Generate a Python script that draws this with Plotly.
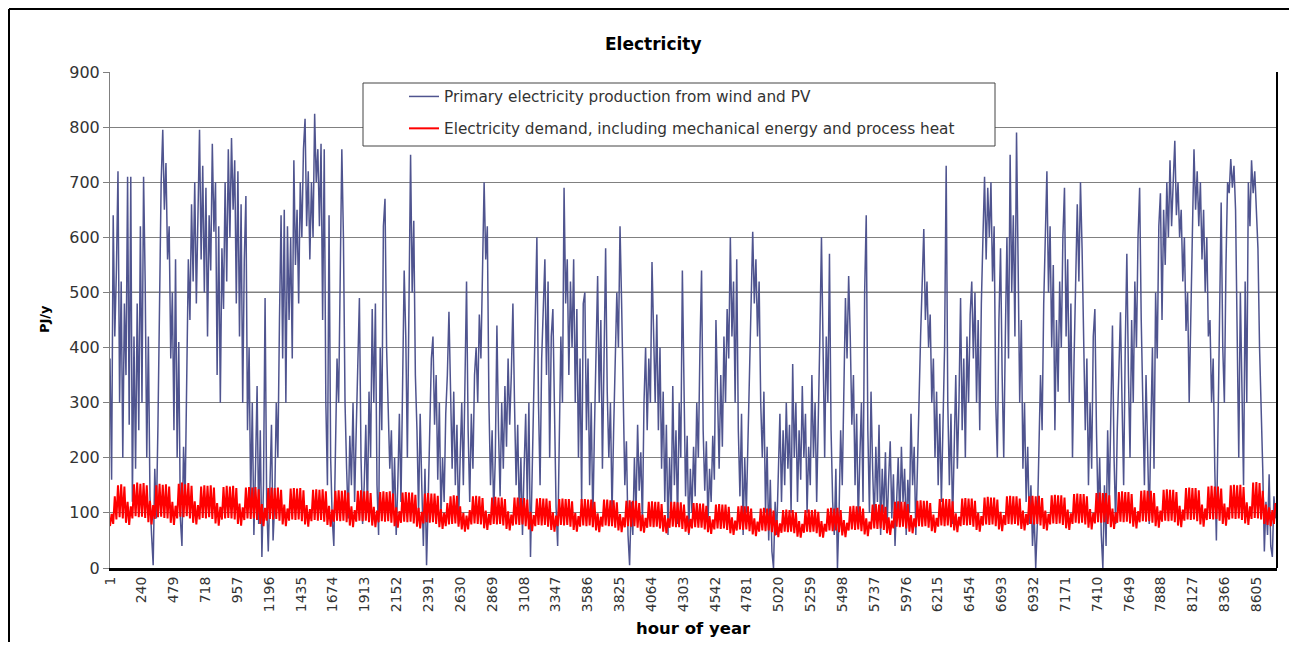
import plotly.graph_objects as go

# ---------------- data ----------------
hour_step = 12  # one value every 12 hours, starting at hour 1

tick_hours = [1, 240, 479, 718, 957, 1196, 1435, 1674, 1913, 2152, 2391, 2630,
              2869, 3108, 3347, 3586, 3825, 4064, 4303, 4542, 4781, 5020, 5259,
              5498, 5737, 5976, 6215, 6454, 6693, 6932, 7171, 7410, 7649, 7888,
              8127, 8366, 8605]
tick_labels = [str(h) for h in tick_hours]

production = [
    380, 160, 640, 420, 540, 720, 300, 520, 200, 480, 350, 710, 260, 710, 120, 420, 180, 480, 250, 620,
    300, 710, 520, 200, 420, 130, 60, 5, 180, 90, 260, 450, 700, 795, 650, 735, 560, 620, 380, 500,
    250, 560, 200, 410, 90, 40, 220, 130, 400, 560, 450, 660, 520, 700, 480, 650, 795, 560, 730, 500,
    690, 420, 640, 540, 770, 610, 700, 350, 620, 300, 580, 470, 700, 520, 760, 600, 780, 650, 740, 480,
    720, 420, 660, 300, 560, 675, 250, 400, 120, 300, 60, 180, 330, 80, 250, 20, 150, 490, 120, 30,
    180, 260, 50, 120, 300, 200, 450, 640, 380, 650, 300, 620, 450, 600, 380, 740, 550, 650, 480, 700,
    600, 760, 815, 620, 720, 560, 700, 600, 824, 700, 760, 620, 770, 450, 760, 300, 150, 640, 200, 90,
    40, 220, 380, 300, 560, 760, 600, 300, 180, 90, 240, 150, 300, 120, 250, 380, 490, 200, 80, 150,
    260, 100, 320, 200, 470, 300, 480, 150, 60, 400, 250, 620, 670, 400, 300, 180, 250, 100, 200, 60,
    150, 280, 120, 360, 540, 420, 200, 480, 750, 500, 630, 350, 250, 100, 280, 150, 40, 180, 5, 120,
    250, 380, 420, 260, 350, 160, 300, 90, 200, 120, 280, 350, 465, 300, 180, 320, 150, 260, 80, 200,
    300, 150, 380, 520, 250, 120, 280, 180, 350, 400, 300, 460, 380, 520, 700, 560, 620, 300, 150, 250,
    100, 200, 440, 250, 130, 300, 180, 330, 220, 380, 260, 350, 480, 300, 150, 260, 90, 200, 60, 180,
    280, 120, 300, 20, 180, 350, 450, 600, 300, 150, 380, 470, 560, 350, 520, 200, 420, 470, 250, 110,
    40, 200, 420, 300, 690, 480, 560, 350, 520, 400, 560, 300, 470, 200, 380, 120, 480, 500, 250, 380,
    150, 300, 80, 250, 400, 530, 300, 450, 180, 380, 580, 320, 200, 300, 100, 250, 380, 500, 400, 620,
    480, 300, 150, 230, 60, 5, 120, 60, 200, 100, 260, 140, 210, 80, 300, 400, 250, 380, 300, 555,
    450, 300, 460, 250, 400, 180, 320, 120, 260, 60, 200, 100, 330, 150, 250, 80, 300, 200, 540, 300,
    130, 240, 60, 180, 100, 220, 130, 300, 200, 400, 540, 250, 140, 230, 80, 180, 120, 240, 160, 450,
    300, 180, 350, 220, 420, 300, 470, 380, 600, 420, 520, 300, 560, 250, 130, 280, 60, 200, 100, 240,
    380, 500, 610, 480, 560, 420, 520, 300, 200, 320, 100, 220, 50, 160, 30, 0, 120, 60, 200, 280,
    120, 250, 150, 300, 180, 260, 100, 370, 200, 300, 120, 250, 160, 330, 200, 280, 100, 220, 150, 350,
    200, 300, 120, 250, 420, 600, 350, 200, 420, 300, 570, 250, 120, 60, 180, 0, 100, 250, 150, 300,
    490, 380, 530, 420, 260, 350, 150, 280, 80, 200, 300, 120, 500, 640, 250, 100, 320, 180, 80, 220,
    120, 260, 60, 180, 100, 210, 70, 160, 230, 90, 170, 40, 140, 200, 80, 220, 120, 180, 60, 160,
    100, 280, 150, 220, 60, 160, 300, 420, 500, 615, 450, 520, 400, 460, 300, 380, 200, 320, 150, 280,
    120, 250, 400, 730, 300, 150, 280, 80, 220, 350, 180, 300, 490, 250, 380, 200, 420, 300, 460, 520,
    380, 500, 300, 450, 250, 480, 600, 710, 560, 690, 600, 700, 520, 620, 300, 200, 450, 580, 350, 200,
    420, 600, 380, 750, 500, 640, 420, 790, 550, 300, 450, 180, 300, 120, 220, 80, 150, 40, 100, 0,
    80, 200, 350, 250, 480, 600, 720, 500, 620, 400, 550, 250, 450, 320, 520, 400, 600, 690, 420, 560,
    300, 480, 200, 380, 550, 660, 520, 700, 580, 420, 250, 380, 150, 300, 180, 420, 470, 250, 100, 200,
    60, 0, 150, 40, 250, 120, 300, 440, 200, 80, 250, 350, 464, 300, 150, 400, 570, 350, 200, 450,
    300, 520, 400, 600, 690, 450, 300, 150, 350, 200, 80, 250, 400, 180, 500, 380, 620, 680, 450, 650,
    550, 700, 600, 740, 620, 700, 775, 640, 700, 600, 650, 520, 600, 430, 500, 300, 450, 620, 760, 650,
    720, 620, 700, 560, 650, 500, 600, 420, 450, 300, 380, 180, 50, 250, 450, 663, 400, 300, 550, 700,
    680, 742, 690, 730, 650, 450, 200, 500, 300, 150, 520, 300, 700, 620, 740, 680, 720, 650, 580, 400,
    300, 180, 30, 120, 60, 170, 40, 20, 130, 90,
]

demand = [
    76, 98, 80, 130, 88, 150, 92, 152, 90, 148, 82, 120, 78, 112,
    90, 152, 94, 155, 92, 153, 93, 154, 91, 150, 83, 122, 79, 114,
    89, 150, 92, 153, 93, 151, 91, 152, 90, 148, 82, 120, 78, 113,
    90, 153, 93, 155, 92, 152, 94, 154, 90, 149, 82, 121, 79, 114,
    88, 148, 91, 150, 90, 149, 92, 150, 89, 146, 81, 118, 77, 111,
    88, 147, 90, 149, 91, 148, 90, 149, 88, 145, 80, 117, 77, 110,
    87, 146, 90, 147, 89, 146, 90, 147, 87, 143, 80, 116, 76, 109,
    86, 145, 89, 146, 88, 145, 89, 146, 86, 142, 79, 115, 76, 108,
    86, 144, 88, 145, 87, 144, 88, 145, 85, 141, 79, 114, 75, 107,
    85, 142, 87, 143, 86, 142, 87, 143, 84, 139, 78, 113, 75, 106,
    84, 140, 86, 141, 85, 140, 86, 141, 83, 137, 77, 112, 74, 105,
    84, 140, 86, 141, 85, 139, 86, 140, 83, 136, 77, 111, 74, 104,
    83, 138, 85, 139, 84, 138, 85, 139, 82, 135, 76, 110, 73, 103,
    82, 137, 84, 138, 83, 137, 84, 137, 81, 133, 75, 109, 72, 102,
    81, 135, 83, 136, 82, 135, 83, 135, 80, 131, 74, 107, 71, 100,
    76, 118, 79, 130, 80, 132, 81, 131, 75, 112, 70, 100, 66, 95,
    70, 105, 79, 130, 81, 131, 80, 130, 79, 127, 72, 104, 69, 98,
    78, 128, 80, 129, 79, 128, 80, 128, 77, 125, 71, 103, 68, 97,
    77, 128, 79, 128, 78, 127, 79, 127, 76, 124, 70, 102, 67, 96,
    76, 126, 78, 127, 77, 126, 78, 126, 75, 122, 69, 101, 66, 95,
    76, 125, 78, 126, 77, 125, 78, 125, 75, 121, 69, 100, 66, 94,
    75, 125, 77, 125, 76, 124, 77, 124, 74, 120, 68, 99, 65, 93,
    75, 124, 77, 124, 76, 123, 76, 123, 73, 119, 68, 98, 65, 92,
    74, 122, 76, 123, 75, 122, 76, 122, 73, 118, 67, 97, 64, 91,
    73, 120, 75, 121, 74, 120, 75, 120, 72, 116, 66, 96, 63, 90,
    73, 120, 75, 120, 74, 119, 74, 119, 71, 115, 66, 95, 63, 89,
    72, 118, 74, 118, 73, 117, 73, 117, 70, 113, 65, 94, 62, 88,
    70, 115, 72, 116, 71, 115, 72, 115, 69, 111, 63, 92, 60, 86,
    68, 112, 70, 113, 69, 112, 70, 112, 67, 108, 61, 90, 58, 84,
    66, 108, 68, 109, 67, 108, 68, 108, 65, 104, 59, 87, 56, 81,
    64, 105, 66, 106, 65, 105, 66, 105, 63, 101, 57, 85, 55, 80,
    64, 105, 66, 106, 65, 105, 66, 106, 63, 102, 57, 85, 55, 80,
    66, 108, 68, 109, 67, 108, 68, 109, 65, 105, 59, 87, 56, 82,
    68, 112, 70, 113, 69, 112, 70, 112, 67, 108, 61, 90, 58, 84,
    70, 115, 72, 116, 71, 115, 72, 115, 69, 111, 63, 92, 60, 86,
    72, 120, 75, 121, 74, 120, 75, 120, 72, 116, 66, 96, 63, 90,
    74, 122, 76, 123, 75, 122, 76, 122, 73, 118, 67, 97, 64, 91,
    75, 125, 77, 126, 76, 125, 77, 125, 74, 121, 68, 99, 65, 93,
    76, 126, 78, 127, 77, 126, 78, 126, 75, 122, 69, 100, 66, 94,
    77, 128, 79, 129, 78, 128, 79, 128, 76, 124, 70, 102, 67, 96,
    78, 130, 80, 131, 79, 130, 80, 130, 77, 126, 71, 104, 68, 98,
    78, 130, 80, 131, 79, 130, 80, 131, 77, 127, 71, 104, 68, 98,
    79, 132, 81, 133, 80, 132, 81, 132, 78, 128, 72, 106, 69, 99,
    80, 134, 82, 135, 81, 134, 82, 134, 79, 130, 73, 107, 70, 100,
    81, 136, 83, 137, 82, 136, 83, 136, 80, 132, 74, 108, 71, 101,
    82, 138, 84, 139, 83, 138, 84, 138, 81, 134, 75, 110, 72, 103,
    83, 140, 85, 141, 84, 140, 85, 140, 82, 136, 76, 112, 73, 104,
    84, 142, 86, 143, 85, 142, 86, 142, 83, 138, 77, 113, 74, 106,
    86, 145, 88, 146, 87, 145, 88, 145, 85, 141, 79, 115, 75, 108,
    87, 148, 89, 149, 88, 148, 89, 148, 86, 144, 80, 117, 77, 110,
    88, 150, 90, 151, 89, 150, 90, 151, 87, 147, 81, 119, 78, 112,
    89, 155, 91, 156, 90, 154, 88, 140, 80, 115, 78, 110, 76, 105,
    80, 118,
]

series_names = ["Primary electricity production from wind and PV",
                "Electricity demand, including mechanical energy and process heat"]

# ---------------- layout geometry (reference pixel coordinates) ----------------
OFF = 8                      # page body margin of the html page
W, H = 1297 - OFF, 650 - 2 * OFF
PL, PT, PR, PB = 110, 72, 1277, 568   # plot area in reference pixels
L, T = PL - OFF, PT - OFF
R, B = W - (PR - OFF), H - (PB - OFF)
pw, ph = PR - PL, PB - PT


def px_x(p):
    return (p - PL) / pw


def px_y(p):
    return (PB - p) / ph


hours_prod = [1 + hour_step * i for i in range(len(production))]
hours_dem = [1 + hour_step * i for i in range(len(demand))]

font_family = "DejaVu Sans"

fig = go.Figure()
fig.add_trace(go.Scatter(x=hours_prod, y=production, mode="lines", name=series_names[0],
                         legendgroup="a",
                         line=dict(color="#4f548f", width=1.5)))
fig.add_trace(go.Scatter(x=hours_dem, y=demand, mode="lines", name=series_names[1],
                         legendgroup="b",
                         line=dict(color="#ff0000", width=2)))

shapes = [
    # outer frame (left, top, right edges)
    dict(type="line", xref="paper", yref="paper", x0=px_x(9), x1=px_x(9),
         y0=px_y(650), y1=px_y(9), line=dict(color="black", width=2), layer="below"),
    dict(type="line", xref="paper", yref="paper", x0=px_x(9), x1=px_x(1293),
         y0=px_y(9), y1=px_y(9), line=dict(color="black", width=2), layer="below"),
    dict(type="line", xref="paper", yref="paper", x0=px_x(1293), x1=px_x(1293),
         y0=px_y(650), y1=px_y(9), line=dict(color="#777777", width=1.5), layer="below"),
    # darker 500 gridline
    dict(type="line", xref="paper", yref="y", x0=0, x1=1, y0=500, y1=500,
         line=dict(color="black", width=1.2), layer="below"),
    # right border of plot area
    dict(type="line", xref="paper", yref="paper", x0=1, x1=1, y0=0, y1=1,
         line=dict(color="black", width=2)),
    # legend box
    dict(type="rect", xref="paper", yref="paper", x0=px_x(363), x1=px_x(995),
         y0=px_y(146), y1=px_y(83), line=dict(color="#444444", width=1),
         fillcolor="white", layer="above"),
]

annotations = [
    dict(text="<b>Electricity</b>", xref="paper", yref="paper", x=px_x(653), y=px_y(44),
         showarrow=False, font=dict(family=font_family, size=17, color="black"),
         xanchor="center", yanchor="middle"),
    dict(text="<b>PJ/y</b>", xref="paper", yref="paper", x=px_x(44), y=px_y(319),
         showarrow=False, textangle=-90, font=dict(family=font_family, size=13, color="black"),
         xanchor="center", yanchor="middle"),
    dict(text="<b>hour of year</b>", xref="paper", yref="paper", x=px_x(693), y=px_y(628),
         showarrow=False, font=dict(family=font_family, size=16.5, color="black"),
         xanchor="center", yanchor="middle"),
]

fig.update_layout(
    width=W, height=H,
    margin=dict(l=L, r=R, t=T, b=B, pad=0),
    paper_bgcolor="white", plot_bgcolor="white",
    font=dict(family=font_family, size=14, color="#333333"),
    showlegend=True,
    legend=dict(x=px_x(404), y=px_y(80), xanchor="left", yanchor="top",
                bgcolor="rgba(0,0,0,0)", borderwidth=0,
                font=dict(family=font_family, size=15.3, color="#333333"),
                tracegroupgap=9),
    shapes=shapes,
    annotations=annotations,
)

fig.update_xaxes(range=[1, 8760], tickmode="array", tickvals=tick_hours, ticktext=tick_labels,
                 tickangle=-90, showgrid=False, zeroline=False,
                 showline=True, linecolor="black", linewidth=3,
                 ticks="", tickfont=dict(family=font_family, size=14, color="#333333"))
fig.update_yaxes(range=[0, 900], dtick=100, showgrid=True, gridcolor="#808080", gridwidth=1,
                 zeroline=False, showline=True, linecolor="#808080", linewidth=1,
                 ticks="outside", ticklen=6, tickcolor="#808080",
                 tickfont=dict(family=font_family, size=16, color="#333333"))

fig.write_html("out.html")
